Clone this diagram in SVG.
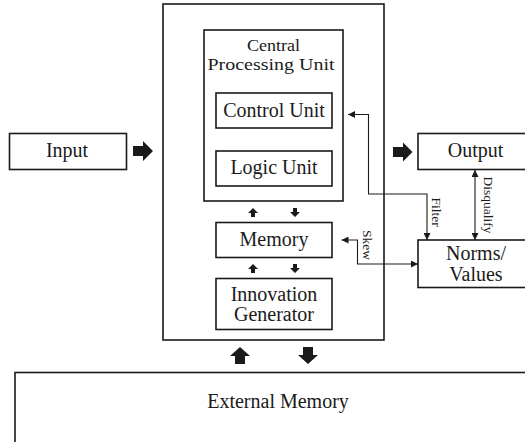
<svg xmlns="http://www.w3.org/2000/svg" width="525" height="442" viewBox="0 0 525 442">
<defs>
<style>
.box{fill:#fff;stroke:#1a1a1a;stroke-width:1.6}
.t{fill:#1a1a1a;text-anchor:middle}
.m{font-size:20px}
.s{font-size:13.5px}
.ln{fill:none;stroke:#1a1a1a;stroke-width:1.1}
.blk{fill:#1a1a1a}
</style>
<marker id="ah" viewBox="0 0 10 10" refX="10" refY="5" markerWidth="7" markerHeight="7" markerUnits="userSpaceOnUse" orient="auto-start-reverse">
<path d="M0,0 L10,5 L0,10 Z" fill="#1a1a1a"/>
</marker>
</defs>
<rect width="525" height="442" fill="#fff"/>
<g font-family="'Liberation Serif', 'Times New Roman', serif">
<g id="outer"><rect class="box" x="163" y="4" width="221" height="336"/></g>
<g id="external-memory"><rect class="box" x="15" y="372.5" width="520" height="80"/><text class="t m" x="278" y="408">External Memory</text></g>
<g id="cpu"><rect class="box" x="204" y="30" width="139" height="171"/><text class="t" font-size="16" x="273.5" y="51" textLength="53" lengthAdjust="spacingAndGlyphs">Central</text><text class="t" font-size="16" x="271" y="70" textLength="127" lengthAdjust="spacingAndGlyphs">Processing Unit</text></g>
<g id="control-unit"><rect class="box" x="216" y="93" width="116" height="35"/><text class="t m" x="274" y="117">Control Unit</text></g>
<g id="logic-unit"><rect class="box" x="216" y="151" width="116" height="35"/><text class="t m" x="274" y="174">Logic Unit</text></g>
<g id="memory"><rect class="box" x="216" y="222.5" width="116" height="35"/><text class="t m" x="274" y="245.5">Memory</text></g>
<g id="innovation-generator"><rect class="box" x="216" y="278.5" width="116" height="51"/><text class="t m" x="274" y="301">Innovation</text><text class="t m" x="274" y="321">Generator</text></g>
<g id="input"><rect class="box" x="9.5" y="133.5" width="117" height="36"/><text class="t m" x="67" y="156.5">Input</text></g>
<g id="output"><rect class="box" x="418" y="133.5" width="115" height="36"/><text class="t m" x="475.5" y="157">Output</text></g>
<g id="norms-values"><rect class="box" x="418" y="240" width="115" height="47.5"/><text class="t m" x="476" y="260">Norms/</text><text class="t m" x="476" y="280.5">Values</text></g>
<g id="connectors">
<polygon class="blk" points="133,146 143,146 143,141 153,151 143,161 143,156 133,156"/>
<polygon class="blk" points="393,147 403,147 403,142.5 412.5,152 403,161.5 403,157 393,157"/>
<polygon class="blk" points="253,208 258,213 255,213 255,217 251,217 251,213 248,213"/>
<polygon class="blk" points="295,217 300,212 297,212 297,208 293,208 293,212 290,212"/>
<polygon class="blk" points="253,264 258,269 255,269 255,273 251,273 251,269 248,269"/>
<polygon class="blk" points="295,273 300,268 297,268 297,264 293,264 293,268 290,268"/>
<polygon class="blk" points="240,347 250,356 245,356 245,364 235,364 235,356 230,356"/>
<polygon class="blk" points="308,364 318,355 313,355 313,347 303,347 303,355 298,355"/>
<polyline class="ln" points="427,240 427,194 368.5,194 368.5,114.5 348,114.5" marker-start="url(#ah)" marker-end="url(#ah)"/>
<polyline class="ln" points="341.5,240 357.5,240 357.5,264 418,264" marker-start="url(#ah)" marker-end="url(#ah)"/>
<line class="ln" x1="475" y1="170" x2="475" y2="240" marker-start="url(#ah)" marker-end="url(#ah)"/>
<text class="t s" transform="translate(432,212) rotate(90)">Filter</text>
<text class="t s" transform="translate(484,205) rotate(90)">Disqualify</text>
<text class="t s" transform="translate(363,245) rotate(90)">Skew</text>
</g>
</g>
</svg>
